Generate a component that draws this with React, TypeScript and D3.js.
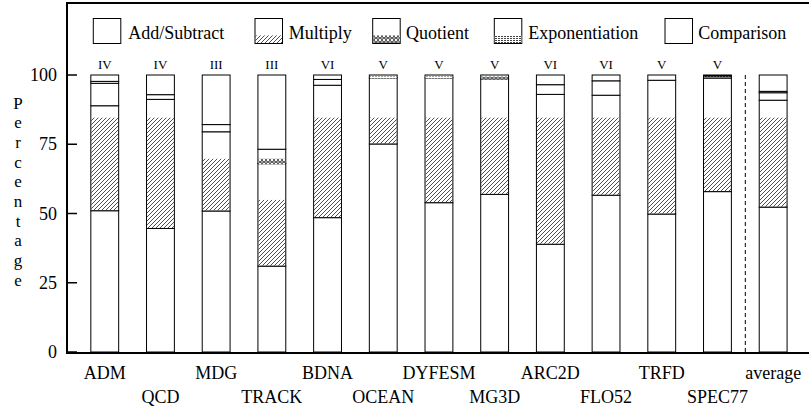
import React from "react";
import * as d3 from "d3";

// Benchmarks and their operation mix (percent of arithmetic operations)
const benchmarks = ["ADM", "QCD", "MDG", "TRACK", "BDNA", "OCEAN", "DYFESM", "MG3D", "ARC2D", "FLO52", "TRFD", "SPEC77", "average"];
const classes = ["IV", "IV", "III", "III", "VI", "V", "V", "V", "VI", "VI", "V", "V", ""];

const addSubtract = [51.0, 44.6, 50.9, 31.0, 48.5, 75.1, 53.9, 56.9, 38.9, 56.6, 49.8, 57.9, 52.3];
const multiply = [37.9, 46.6, 28.6, 37.0, 47.8, 23.9, 45.1, 41.7, 54.1, 36.1, 48.3, 41.0, 38.6];
const quotient = [8.1, 1.7, 2.6, 5.2, 2.1, 0.0, 0.0, 1.4, 3.5, 5.2, 0.0, 0.4, 2.7];
const exponentiation = [0.7, 0.0, 0.0, 0.0, 0.0, 1.0, 1.0, 0.0, 0.0, 0.0, 0.0, 0.4, 0.5];
const comparison = [2.3, 7.1, 17.9, 26.8, 1.6, 0.0, 0.0, 0.0, 3.5, 2.1, 1.9, 0.3, 5.9];

const categories = ["Add/Subtract", "Multiply", "Quotient", "Exponentiation", "Comparison"];
const yTicks = [0, 25, 50, 75, 100];
const axisTitle = "Percentage";

const FONT = "'Liberation Serif', 'Times New Roman', Times, serif";
const patternFill = [null, "url(#hatch)", "url(#quot)", "url(#expo)", null];
// hatch is see-through; the other two patterns paint over the segment's lower edge
const patternOpaque = [false, false, true, true, false];

// Fill patterns are laid down in horizontal strips of fixed height;
// a strip cut by the top of its segment is left blank.
const STRIP_BASE = 84.6;
const STRIP = 14.85;
const stripTop = (top: number) => STRIP_BASE + Math.floor((top - STRIP_BASE) / STRIP + 1e-9) * STRIP;

export default function App() {
  const W = 809;
  const H = 410;
  const left = 67;
  const bottom = 353;

  const x = d3.scaleBand<string>().domain(benchmarks).range([76.9, 801]).paddingInner(0.5).paddingOuter(0.25);
  const y = d3.scaleLinear().domain([0, 100]).range([352, 75]);
  const bw = x.bandwidth();

  const series = [addSubtract, multiply, quotient, exponentiation, comparison];
  const stacked = d3
    .stack<number, number>()
    .keys(d3.range(series.length))
    .value((d, k) => series[k][d])(d3.range(benchmarks.length));

  const sepX = (x("SPEC77")! + bw + x("average")!) / 2;

  // legend layout
  const legendBoxX = [93.3, 255, 372.7, 494.3, 665];
  const legendTextX = [128.3, 288.8, 406, 528.3, 698.3];
  const boxTop = 18.5;
  const boxH = 25;
  const boxW = 27.5;

  const txt = { fontFamily: FONT };

  const patternRect = (k: number, bx: number, w: number, v0: number, pTop: number, key?: string) => {
    const y1 = y(pTop);
    const y0 = patternOpaque[k] ? y(v0) + 0.5 : y(v0) - 0.5;
    if (y0 - y1 <= 0) return null;
    return <rect key={key} x={bx + 0.5} y={y1} width={w - 1} height={y0 - y1} fill={patternFill[k]!} />;
  };

  return (
    <svg width={W} height={H} style={{ position: "absolute", left: 0, top: 0, background: "#fff", fontFamily: FONT }}>
      <defs>
        <pattern id="hatch" patternUnits="userSpaceOnUse" width="4" height="4">
          <path d="M-1,1 l2,-2 M0,4 l4,-4 M3,5 l2,-2" stroke="#222" strokeWidth="0.8" />
        </pattern>
        <pattern id="quot" patternUnits="userSpaceOnUse" width="4" height="4">
          <rect x="0" y="0" width="4" height="4" fill="#fff" />
          <circle cx="2" cy="2" r="1.4" fill="none" stroke="#111" strokeWidth="0.9" />
        </pattern>
        <pattern id="expo" patternUnits="userSpaceOnUse" width="3" height="2">
          <rect x="0" y="0" width="3" height="2" fill="#fff" />
          <rect x="0" y="0" width="2" height="1" fill="#444" />
        </pattern>
      </defs>

      <rect x={0} y={0} width={W} height={H} fill="#fff" />

      {/* stacked bars */}
      {stacked.map((layer, k) =>
        layer.map((seg, i) => {
          const [v0, v1] = seg;
          if (v1 - v0 <= 0) return null;
          const bx = x(benchmarks[i])!;
          const pTop = stripTop(v1);
          return (
            <g key={`${k}-${i}`}>
              <rect x={bx} y={y(v1)} width={bw} height={y(v0) - y(v1)} fill="#fff" stroke="#000" strokeWidth={1} />
              {patternFill[k] && pTop > v0 && patternRect(k, bx, bw, v0, pTop)}
            </g>
          );
        })
      )}

      {/* class labels above the bars */}
      {benchmarks.map((b, i) => (
        <text key={b} x={x(b)! + bw / 2} y={69} textAnchor="middle" fontSize={13} style={txt}>
          {classes[i]}
        </text>
      ))}

      {/* separator before the average */}
      <line x1={sepX} x2={sepX} y1={y(100)} y2={bottom} stroke="#000" strokeWidth={1} strokeDasharray="4,3" />

      {/* frame and axes */}
      <line x1={left} x2={W} y1={3} y2={3} stroke="#000" strokeWidth={2} />
      <line x1={left} x2={W} y1={bottom} y2={bottom} stroke="#000" strokeWidth={2} />
      <line x1={left} x2={left} y1={2} y2={bottom + 1} stroke="#000" strokeWidth={2} />

      {yTicks.map((t) => (
        <g key={t}>
          <line x1={left} x2={left + 10} y1={y(t)} y2={y(t)} stroke="#000" strokeWidth={1.5} />
          <text x={57} y={y(t) + 6} textAnchor="end" fontSize={18} style={txt}>
            {t}
          </text>
        </g>
      ))}

      {axisTitle.split("").map((ch, i) => (
        <text key={i} x={18} y={108.5 + i * 19.7} textAnchor="middle" fontSize={17} style={txt}>
          {ch}
        </text>
      ))}

      {/* category labels, staggered on two rows */}
      {benchmarks.map((b, i) => (
        <text key={b} x={x(b)! + bw / 2} y={i % 2 === 0 ? 379 : 403} textAnchor="middle" fontSize={18} style={txt}>
          {b}
        </text>
      ))}

      {/* legend */}
      {categories.map((c, k) => {
        const bx = legendBoxX[k];
        const v0 = y.invert(boxTop + boxH);
        const pTop = stripTop(y.invert(boxTop));
        return (
          <g key={c}>
            <rect x={bx} y={boxTop} width={boxW} height={boxH} fill="#fff" stroke="#000" strokeWidth={1} />
            {patternFill[k] && (
              <rect x={bx + 0.5} y={y(pTop)} width={boxW - 1} height={y(v0) - y(pTop) - 0.5} fill={patternFill[k]!} />
            )}
            <text x={legendTextX[k]} y={39} fontSize={18} style={txt}>
              {c}
            </text>
          </g>
        );
      })}
    </svg>
  );
}
